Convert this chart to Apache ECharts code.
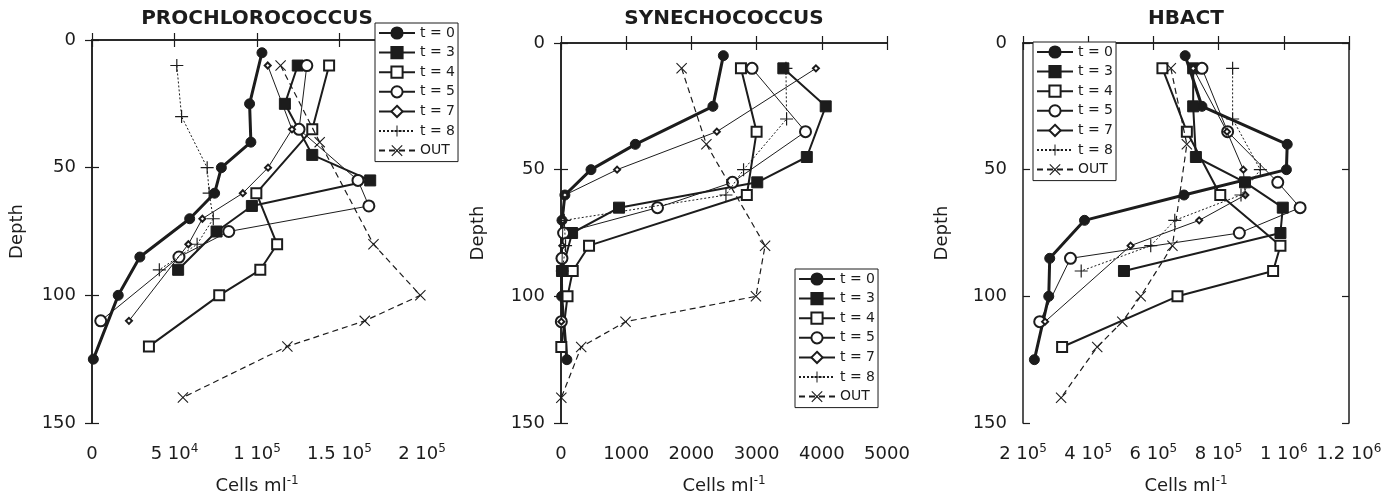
<!DOCTYPE html>
<html><head><meta charset="utf-8">
<script src="https://cdn.jsdelivr.net/npm/echarts@6/dist/echarts.min.js"></script>
<style>html,body{margin:0;padding:0;background:#fff}#c{width:1397px;height:496px}</style>
</head><body><div id="c"></div>
<script>
// ---- Data ----
const panelTitles = ['PROCHLOROCOCCUS', 'SYNECHOCOCCUS', 'HBACT'];
const seriesNames = ['t = 0', 't = 3', 't = 4', 't = 5', 't = 7', 't = 8', 'OUT'];

// depths (m) sampled for each series
const depthT0 = [5, 25, 40, 50, 60, 70, 85, 100, 125];
const depthT3 = [10, 25, 45, 55, 65, 75, 90];
const depthT4 = [10, 35, 60, 80, 90, 100, 120];
const depthT5 = [10, 35, 55, 65, 75, 85, 110];
const depthT7 = [10, 35, 50, 60, 70, 80, 110];
const depthT8 = [10, 30, 50, 60, 70, 80, 90];
const depthOUT = [10, 40, 80, 100, 110, 120, 140];

// Prochlorococcus (cells/ml)
const proT0 = [103000, 95500, 96300, 78400, 74300, 59200, 29000, 15900, 800];
const proT3 = [124700, 116900, 133500, 168600, 96900, 75500, 52200];
const proT4 = [143700, 133500, 99600, 112200, 102000, 77100, 34500];
const proT5 = [130200, 125500, 161200, 167800, 82900, 52700, 5300];
const proT7 = [106500, 121200, 106700, 91400, 66900, 58400, 22400];
const proT8 = [51400, 54300, 69800, 71000, 73500, 63700, 40800];
const proOUT = [114300, 138000, 170600, 199000, 165300, 118400, 55100];

// Synechococcus (cells/ml)
const synT0 = [2490, 2330, 1140, 460, 60, 15, 5, 10, 90];
const synT3 = [3410, 4060, 3770, 3010, 890, 170, 15];
const synT4 = [2760, 3000, 2850, 430, 180, 100, 5];
const synT5 = [2930, 3750, 2630, 1480, 40, 15, 5];
const synT7 = [3910, 2390, 860, 60, 30, 20, 5];
const synT8 = [3450, 3460, 2800, 2530, 50, 70, 20];
const synOUT = [1850, 2230, 3130, 2990, 990, 310, 5];

// HBACT (cells/ml)
const hbT0 = [697500, 749000, 1010500, 1008000, 694000, 388700, 282000, 279000, 234900];
const hbT3 = [722000, 722000, 730300, 881000, 996900, 989700, 509700];
const hbT4 = [627700, 702600, 805100, 989700, 967200, 673800, 320000];
const hbT5 = [749000, 827700, 981500, 1050000, 863600, 345600, 251300];
const hbT7 = [722000, 825800, 875900, 882000, 740500, 530000, 267700];
const hbT8 = [843000, 843000, 928000, 868700, 665600, 591800, 378500];
const hbOUT = [653500, 702600, 658400, 561000, 504600, 427700, 316900];

// Axis ranges and tick labels
const proXRange = [0, 200000, 50000];
const synXRange = [0, 5000, 1000];
const hbXRange = [200000, 1200000, 200000];
const proTickLabels = ['0', '5 10^4', '1 10^5', '1.5 10^5', '2 10^5'];
const synTickLabels = ['0', '1000', '2000', '3000', '4000', '5000'];
const hbTickLabels = ['2 10^5', '4 10^5', '6 10^5', '8 10^5', '1 10^6', '1.2 10^6'];
const depthRange = [0, 150, 50];
const xAxisName = 'Cells ml^-1';
const yAxisName = 'Depth';

// ---- Chart build ----
const FONT = 'DejaVu Sans';
const INK = '#1c1c1c';
const depths = [depthT0, depthT3, depthT4, depthT5, depthT7, depthT8, depthOUT];
const panelValues = [
  [proT0, proT3, proT4, proT5, proT7, proT8, proOUT],
  [synT0, synT3, synT4, synT5, synT7, synT8, synOUT],
  [hbT0, hbT3, hbT4, hbT5, hbT7, hbT8, hbOUT]
];
const panelX = [proXRange, synXRange, hbXRange];
const panelTicks = [proTickLabels, synTickLabels, hbTickLabels];

const grids = [
  {left: 92, top: 40, width: 330, height: 383, outerBoundsMode: 'none', containLabel: false},
  {left: 561, top: 43, width: 326, height: 380, outerBoundsMode: 'none', containLabel: false},
  {left: 1023, top: 43, width: 326, height: 380, outerBoundsMode: 'none', containLabel: false}
];
const depthNameGap = [66, 74, 72];
const legendPos = [{left: 375, top: 23}, {left: 795, top: 269}, {left: 1033, top: 42}];

const PLUS = 'path://M9.1,0H10.9V9.1H20V10.9H10.9V20H9.1V10.9H0V9.1H9.1Z';
const CROSS = 'path://M0,1.4L1.4,0L10,8.6L18.6,0L20,1.4L11.4,10L20,18.6L18.6,20L10,11.4L1.4,20L0,18.6L8.6,10Z';
const styles = [
  {symbol: 'circle', symbolSize: 10, width: 3, type: 'solid', bw: 1},
  {symbol: 'rect', symbolSize: 11, width: 2, type: 'solid', bw: 1},
  {symbol: 'emptyRect', symbolSize: 10, width: 2, type: 'solid', bw: 1.2},
  {symbol: 'emptyCircle', symbolSize: 11, width: 1, type: 'solid', bw: 1.2},
  {symbol: 'emptyDiamond', symbolSize: 6, width: 1, type: 'solid', bw: 1},
  {symbol: PLUS, symbolSize: 13, width: 1, type: [2, 2], bw: 0},
  {symbol: CROSS, symbolSize: 11, width: 1.2, type: [6, 4], bw: 0}
];

function fmtSup(s) {
  if (s.indexOf('^') < 0) return '{b|' + s + '}';
  const p = s.split('^');
  return '{b|' + p[0] + '}{s|' + p[1] + '}';
}
const richStyle = {
  b: {fontFamily: FONT, fontSize: 18, color: INK, lineHeight: 22},
  s: {fontFamily: FONT, fontSize: 12, color: INK, verticalAlign: 'top', lineHeight: 22}
};

const xAxes = [], yAxes = [], series = [], legends = [], titles = [];
for (let p = 0; p < 3; p++) {
  const [xmin, xmax, xint] = panelX[p];
  const ticks = panelTicks[p];
  const axisLine = {show: true, lineStyle: {color: INK, width: 1.5}};
  const tick = {show: true, inside: true, length: 7, lineStyle: {color: INK, width: 1.2}};
  xAxes.push({
    type: 'value', gridIndex: p, position: 'bottom', min: xmin, max: xmax, interval: xint,
    axisLine, axisTick: tick, splitLine: {show: false},
    axisLabel: {margin: 20, formatter: (v, i) => fmtSup(ticks[Math.round((v - xmin) / xint)]), rich: richStyle},
    name: fmtSup(xAxisName), nameLocation: 'middle', nameGap: 52,
    nameTextStyle: {rich: richStyle}
  });
  xAxes.push({
    type: 'value', gridIndex: p, position: 'top', min: xmin, max: xmax, interval: xint,
    axisLine, axisTick: tick, splitLine: {show: false}, axisLabel: {show: false}
  });
  yAxes.push({
    type: 'value', gridIndex: p, position: 'left', inverse: true,
    min: depthRange[0], max: depthRange[1], interval: depthRange[2],
    axisLine, axisTick: tick, splitLine: {show: false},
    axisLabel: {margin: 16, fontFamily: FONT, fontSize: 18, color: INK},
    name: yAxisName, nameLocation: 'middle', nameGap: depthNameGap[p], nameRotate: 90,
    nameTextStyle: {fontFamily: FONT, fontSize: 18, color: INK}
  });
  yAxes.push({
    type: 'value', gridIndex: p, position: 'right', inverse: true,
    min: depthRange[0], max: depthRange[1], interval: depthRange[2],
    axisLine, axisTick: tick, splitLine: {show: false}, axisLabel: {show: false}
  });
  for (let k = 0; k < 7; k++) {
    const st = styles[k];
    const vals = panelValues[p][k];
    series.push({
      type: 'line', name: seriesNames[k], xAxisIndex: p * 2, yAxisIndex: p * 2,
      data: vals.map((v, i) => [v, depths[k][i]]),
      symbol: st.symbol, symbolSize: st.symbolSize,
      lineStyle: {color: INK, width: st.width, type: st.type},
      itemStyle: {color: INK, borderColor: INK, borderWidth: st.bw},
      emphasis: {disabled: true}, z: 2 + k
    });
  }
  legends.push({
    orient: 'vertical', left: legendPos[p].left, top: legendPos[p].top,
    data: seriesNames, itemWidth: 36, itemHeight: 14, itemGap: 5.6,
    padding: [3, 3, 4, 3], borderColor: INK, borderWidth: 1, backgroundColor: '#fff',
    textStyle: {fontFamily: FONT, fontSize: 14, color: INK}, selectedMode: false, z: 20
  });
  titles.push({
    text: panelTitles[p], left: grids[p].left + grids[p].width / 2, top: 9, textAlign: 'center',
    padding: 0,
    textStyle: {fontFamily: FONT, fontSize: 20, fontWeight: 'bold', color: INK}
  });
}

const chart = echarts.init(document.getElementById('c'), null, {renderer: 'canvas'});
chart.setOption({
  animation: false,
  backgroundColor: '#fff',
  title: titles,
  grid: grids,
  xAxis: xAxes,
  yAxis: yAxes,
  legend: legends,
  series: series
});
</script></body></html>
